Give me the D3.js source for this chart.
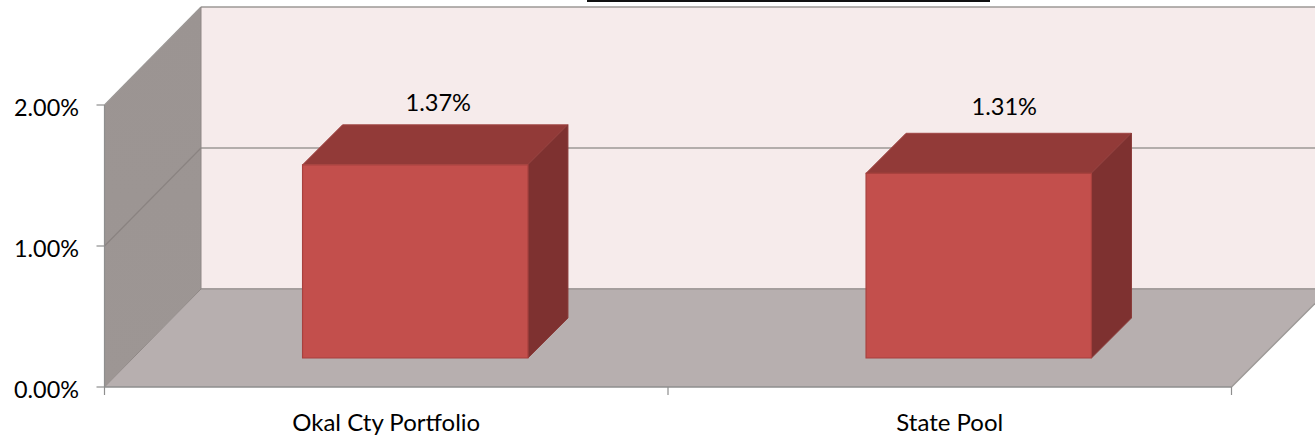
<!DOCTYPE html>
<html><head><meta charset="utf-8">
<script src="https://cdn.jsdelivr.net/npm/d3@7"></script>
<style>html,body{margin:0;padding:0;background:#fff}svg{display:block}
text{font-family:Lato,"Open Sans",sans-serif;fill:#000}</style></head>
<body><svg id="c" width="1315" height="442"></svg>
<script>
const categories = ["Okal Cty Portfolio", "State Pool"];
const values = [1.37, 1.31];
const valueLabels = ["1.37%", "1.31%"];
const yTicks = [0, 1, 2];
const yTickLabels = ["0.00%", "1.00%", "2.00%"];

const svg = d3.select("#c");
const x0 = 104.5, x1 = 1231.5, yBase = 387, yTop = 105;
const depthX = 96.5, depthY = -98;
const barDepth = 40, barInsetX = 29, barInsetY = -29;
const labelRise = [62, 67], labelShift = [23, 25.5];

const x = d3.scaleBand().domain(categories).range([x0, x1]).paddingInner(0.6).paddingOuter(0.3);
const y = d3.scaleLinear().domain([0, 2]).range([yBase, yTop]);
const poly = (pts, fill, stroke, sw) => svg.append("polygon")
  .attr("points", pts.map(p => p.join(",")).join(" "))
  .attr("fill", fill).attr("stroke", stroke || "none").attr("stroke-width", sw || 0);

const defs = svg.append("defs");
const g = defs.append("linearGradient").attr("id", "side").attr("x1", 0).attr("x2", 0).attr("y1", 0).attr("y2", 1);
g.append("stop").attr("offset", 0).attr("stop-color", "#9b9492");
g.append("stop").attr("offset", 1).attr("stop-color", "#9d9694");

// back wall
poly([[x0 + depthX, y(2) + depthY], [1315, y(2) + depthY], [1315, y(0) + depthY], [x0 + depthX, y(0) + depthY]], "#f6ebeb");
// side wall
poly([[x0, y(2)], [x0 + depthX, y(2) + depthY], [x0 + depthX, y(0) + depthY], [x0, y(0)]], "url(#side)");
// floor
poly([[x0, y(0)], [x0 + depthX, y(0) + depthY], [1315, y(0) + depthY], [1315, y(0) - (1315 - x1)], [x1, y(0)]], "#b7afaf");

const edge = "#9c9896";
const seg = (a, b, c, w) => svg.append("line").attr("x1", a[0]).attr("y1", a[1]).attr("x2", b[0]).attr("y2", b[1])
  .attr("stroke", c || edge).attr("stroke-width", w || 1.5);

// gridlines
yTicks.forEach(t => {
  if (t > 0) seg([x0, y(t)], [x0 + depthX, y(t) + depthY], t === 2 ? edge : "#8a8381", 1.2);
  seg([x0 + depthX, y(t) + depthY], [1315, y(t) + depthY], t === 0 ? "#a59e9d" : edge, t === 0 ? 2 : 1.5);
});
seg([x0 + depthX, y(2) + depthY], [x0 + depthX, y(0) + depthY], "#8f8886", 1);
seg([x0, y(0)], [x0 + depthX, y(0) + depthY], "#8f8886", 1);
seg([x1, y(0)], [1315, y(0) - (1315 - x1)]);

// axes
seg([x0, y(2)], [x0, y(0)], "#8e8e8e", 1.2);
seg([x0, y(0)], [x1, y(0)], "#8e8e8e", 1.6);
yTicks.forEach((t, i) => {
  seg([x0 - 8, y(t)], [x0, y(t)], "#8e8e8e", 1.2);
  svg.append("text").attr("x", 79).attr("y", y(t) + 2.5).attr("dy", "0.36em")
    .attr("text-anchor", "end").attr("font-size", 23.4).text(yTickLabels[i]);
});
const step = (x1 - x0) / categories.length;
d3.range(categories.length + 1).forEach(i => seg([x0 + i * step, y(0)], [x0 + i * step, y(0) + 8], "#8e8e8e", 1.2));
categories.forEach((c, i) => {
  svg.append("text").attr("x", x0 + (i + 0.5) * step).attr("y", 430.5)
    .attr("text-anchor", "middle").attr("font-size", 24).text(c);
});

// bars
categories.forEach((c, i) => {
  const l = x0 + (i + 0.5) * step - x.bandwidth() / 2 + barInsetX, r = l + x.bandwidth();
  const b = yBase + barInsetY, t = b - (yBase - y(values[i]));
  poly([[l, t], [l + barDepth, t - barDepth], [r + barDepth, t - barDepth], [r, t]], "#923a38", "#a04644", 1);
  poly([[r, t], [r + barDepth, t - barDepth], [r + barDepth, b - barDepth], [r, b]], "#7e3130", "#8a3a38", 1);
  poly([[l, t], [r, t], [r, b], [l, b]], "#c34f4c", "#a8413e", 1.2);
  svg.append("text").attr("x", (l + r) / 2 + labelShift[i]).attr("y", t - labelRise[i])
    .attr("text-anchor", "middle").attr("font-size", 23.6).attr("dy", "0.36em").text(valueLabels[i]);
});

// remnant of the cropped title underline
svg.append("line").attr("x1", 587).attr("x2", 990).attr("y1", 1).attr("y2", 1).attr("stroke", "#111").attr("stroke-width", 2);
</script></body></html>
